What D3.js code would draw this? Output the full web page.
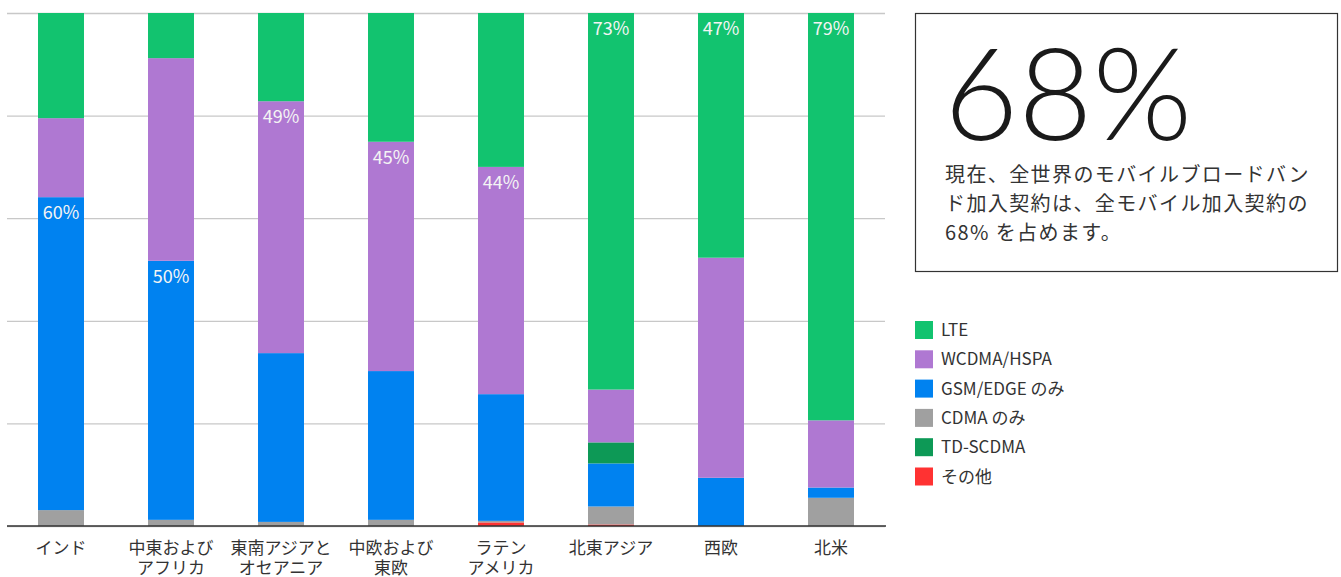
<!DOCTYPE html>
<html>
<head>
<meta charset="utf-8">
<script src="https://cdn.jsdelivr.net/npm/d3@7"></script>
<style>
  body { margin: 0; background: #fff; }
  text { font-family: "Noto Sans CJK JP", "Noto Sans", sans-serif; }
</style>
</head>
<body>
<div class="chart"></div>
<script>
const categories = ["インド", "中東および\nアフリカ", "東南アジアと\nオセアニア", "中欧および\n東欧", "ラテン\nアメリカ", "北東アジア", "西欧", "北米"];
const seriesNames = ["その他", "CDMA のみ", "GSM/EDGE のみ", "TD-SCDMA", "WCDMA/HSPA", "LTE"];
const seriesColors = ["#ff3232", "#a0a0a0", "#0082f0", "#0d9956", "#af78d2", "#12c36f"];
const other = [0, 0, 0, 0, 0.7, 0.3, 0, 0];
const cdma = [3.1, 1.2, 0.8, 1.2, 0.3, 3.5, 0, 5.5];
const gsm = [61, 50.5, 32.9, 29, 24.7, 8.4, 9.4, 2];
const tdscdma = [0, 0, 0, 0, 0, 4.1, 0, 0];
const wcdma = [15.4, 39.5, 49.1, 44.7, 44.3, 10.3, 42.9, 13.1];
const lte = [20.5, 8.8, 17.2, 25.1, 30, 73.4, 47.7, 79.4];
const yTicks = [0, 20, 40, 60, 80, 100];
// which segment gets a % label, and the label text
const labelSeries = ["GSM/EDGE のみ", "GSM/EDGE のみ", "WCDMA/HSPA", "WCDMA/HSPA", "WCDMA/HSPA", "LTE", "LTE", "LTE"];
const labelText = ["60%", "50%", "49%", "45%", "44%", "73%", "47%", "79%"];
const legendOrder = ["LTE", "WCDMA/HSPA", "GSM/EDGE のみ", "CDMA のみ", "TD-SCDMA", "その他"];
const bigNumber = "68%";
const bodyLines = ["現在、全世界のモバイルブロードバン", "ド加入契約は、全モバイル加入契約の", "68% を占めます。"];

const width = 1341, height = 577;
const seriesValues = [other, cdma, gsm, tdscdma, wcdma, lte];

const svg = d3.select(".chart").append("svg")
  .attr("width", width)
  .attr("height", height);

const rows = categories.map((c, i) => {
  const r = { category: c };
  seriesNames.forEach((s, j) => r[s] = seriesValues[j][i]);
  return r;
});

const x = d3.scaleBand().domain(categories).range([6, 886]).paddingInner(0.582).paddingOuter(0.291);
const y = d3.scaleLinear().domain([0, 100]).range([526, 13]);
const color = d3.scaleOrdinal().domain(seriesNames).range(seriesColors);

// gridlines
svg.append("g")
  .attr("transform", "translate(7,0)")
  .call(d3.axisLeft(y).tickValues(yTicks).tickSize(-878).tickFormat(""))
  .call(g => g.select(".domain").remove())
  .call(g => g.selectAll(".tick line").attr("stroke", "#c8c8c8").attr("stroke-width", 1.3));

const stack = d3.stack().keys(seriesNames)(rows);

svg.append("g").selectAll("g")
  .data(stack)
  .join("g")
  .attr("fill", d => color(d.key))
  .selectAll("rect")
  .data(d => d)
  .join("rect")
  .attr("x", d => x(d.data.category))
  .attr("width", x.bandwidth())
  .attr("y", d => y(d[1]))
  .attr("height", d => y(d[0]) - y(d[1]));

// baseline
svg.append("g")
  .attr("transform", "translate(0,526)")
  .call(d3.axisBottom(x).tickSize(0).tickFormat(""))
  .call(g => g.select(".domain").attr("stroke", "#333").attr("stroke-width", 1.5).attr("d", "M7,0H886"));

// category labels
const catLabels = svg.append("g").selectAll("text")
  .data(categories)
  .join("text")
  .attr("x", d => x(d) + x.bandwidth() / 2)
  .attr("y", 554)
  .attr("text-anchor", "middle")
  .attr("font-size", 17)
  .attr("fill", "#333");
catLabels.selectAll("tspan")
  .data(d => d.split("\n"))
  .join("tspan")
  .attr("x", function () { return d3.select(this.parentNode).attr("x"); })
  .attr("dy", (d, i) => i === 0 ? 0 : 20)
  .text(d => d);

// % labels on segments
svg.append("g").selectAll("text")
  .data(categories)
  .join("text")
  .attr("x", d => x(d) + x.bandwidth() / 2)
  .attr("y", (d, i) => {
    const layer = stack.find(s => s.key === labelSeries[i]);
    return y(layer[i][1]) + 22;
  })
  .attr("text-anchor", "middle")
  .attr("font-size", 18)
  .attr("fill", "#f4f4f4")
  .text((d, i) => labelText[i]);

// callout box
svg.append("rect")
  .attr("x", 915.5).attr("y", 13.5)
  .attr("width", 422).attr("height", 258)
  .attr("fill", "none").attr("stroke", "#333").attr("stroke-width", 1.2);

svg.append("text")
  .attr("x", 944).attr("y", 140)
  .attr("font-size", 128)
  .attr("font-weight", 300)
  .style("font-family", "Lato, 'Noto Sans', sans-serif")
  .attr("fill", "#1a1a1a")
  .text(bigNumber);

svg.append("g").selectAll("text")
  .data(bodyLines)
  .join("text")
  .attr("x", 945)
  .attr("y", (d, i) => 182 + i * 29)
  .attr("font-size", 20)
  .attr("letter-spacing", 1.4)
  .attr("fill", "#333")
  .text(d => d);

// legend
const legend = svg.append("g").selectAll("g")
  .data(legendOrder)
  .join("g")
  .attr("transform", (d, i) => `translate(915,${321 + i * 29.3})`);
legend.append("rect")
  .attr("width", 18).attr("height", 18)
  .attr("fill", d => color(d));
legend.append("text")
  .attr("x", 26).attr("y", 15)
  .attr("font-size", 17)
  .attr("fill", "#333")
  .text(d => d);
</script>
</body>
</html>
